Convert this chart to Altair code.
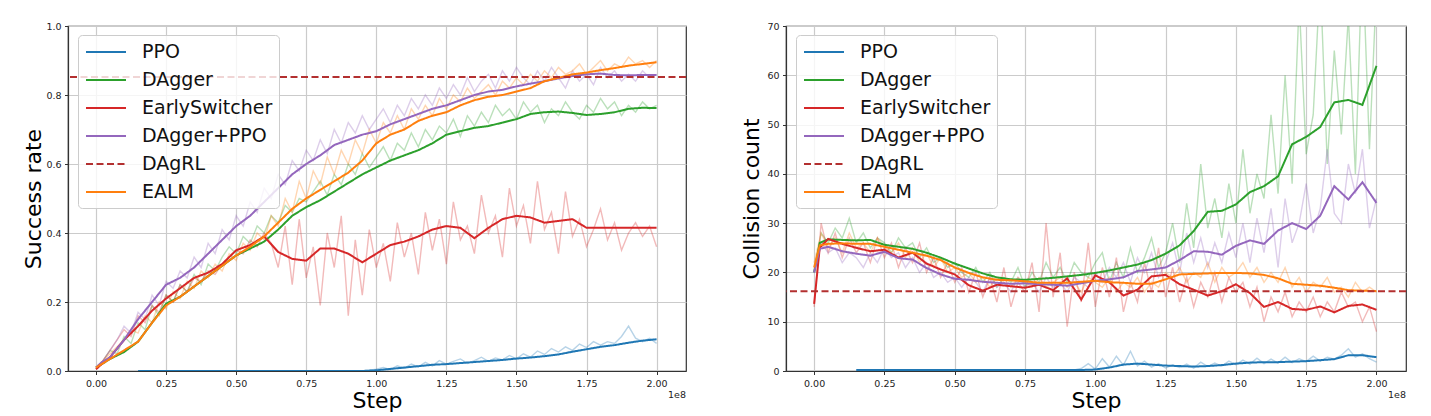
import altair as alt
import pandas as pd

# ---------------- data ----------------
METHODS = ["PPO", "DAgger", "EarlySwitcher", "DAgger+PPO", "DAgRL", "EALM"]
COLORS = ["#1f77b4", "#2ca02c", "#d62728", "#9467bd", "#b33030", "#ff7f0e"]
DASHES = [[1, 0], [1, 0], [1, 0], [1, 0], [7, 3.5], [1, 0]]
RAW_METHODS = ["PPO", "DAgger", "EarlySwitcher", "DAgger+PPO", "EALM"]
RAW_COLORS = ["#1f77b4", "#2ca02c", "#d62728", "#9467bd", "#ff7f0e"]

X_TICKS = [0.0, 0.25, 0.5, 0.75, 1.0, 1.25, 1.5, 1.75, 2.0]
SUCCESS_TICKS = [0.0, 0.2, 0.4, 0.6, 0.8, 1.0]
COLLISION_TICKS = [0, 10, 20, 30, 40, 50, 60, 70]

# step (in units of 1e8) for smoothed curves and for raw curves
SMOOTH_STEPS = [0.0, 0.02, 0.05, 0.1, 0.15, 0.2, 0.25, 0.3, 0.35, 0.4, 0.45, 0.5,
                0.55, 0.6, 0.65, 0.7, 0.75, 0.8, 0.85, 0.9, 0.95, 1.0, 1.05, 1.1,
                1.15, 1.2, 1.25, 1.3, 1.35, 1.4, 1.45, 1.5, 1.55, 1.6, 1.65, 1.7,
                1.75, 1.8, 1.85, 1.9, 1.95, 2.0]
RAW_STEPS = [round(0.025 * k, 3) for k in range(81)]

# ---- Success rate: smoothed ----
S_PPO = [None, None, None, None] + [0.0] * 17 + [
    0.002, 0.006, 0.01, 0.014, 0.018, 0.02, 0.023, 0.026, 0.029, 0.032, 0.036,
    0.039, 0.043, 0.048, 0.056, 0.063, 0.07, 0.075, 0.082, 0.088, 0.092]
S_DAGGER = [0.01, 0.02, 0.035, 0.055, 0.085, 0.14, 0.195, 0.215, 0.245, 0.275, 0.305,
            0.335, 0.355, 0.375, 0.41, 0.45, 0.475, 0.495, 0.52, 0.545, 0.57, 0.59,
            0.61, 0.625, 0.64, 0.66, 0.685, 0.695, 0.705, 0.71, 0.72, 0.73, 0.745,
            0.75, 0.752, 0.748, 0.742, 0.745, 0.75, 0.76, 0.763, 0.762]
S_EARLY = [0.005, 0.02, 0.04, 0.09, 0.13, 0.175, 0.21, 0.24, 0.27, 0.285, 0.31, 0.35,
           0.365, 0.39, 0.345, 0.325, 0.32, 0.355, 0.355, 0.34, 0.315, 0.34, 0.365,
           0.375, 0.39, 0.41, 0.42, 0.415, 0.385, 0.415, 0.44, 0.45, 0.445, 0.43,
           0.435, 0.44, 0.415, 0.415, 0.415, 0.415, 0.415, 0.415]
S_DPPO = [0.01, 0.025, 0.04, 0.09, 0.15, 0.20, 0.25, 0.27, 0.30, 0.34, 0.38, 0.42,
          0.45, 0.49, 0.53, 0.57, 0.60, 0.625, 0.655, 0.67, 0.685, 0.695, 0.715, 0.73,
          0.745, 0.76, 0.77, 0.785, 0.80, 0.81, 0.815, 0.825, 0.833, 0.84, 0.848,
          0.855, 0.86, 0.862, 0.858, 0.857, 0.858, 0.858]
S_EALM = [0.01, 0.02, 0.035, 0.06, 0.085, 0.14, 0.19, 0.215, 0.245, 0.275, 0.305,
          0.335, 0.36, 0.39, 0.43, 0.47, 0.50, 0.525, 0.55, 0.575, 0.61, 0.66, 0.685,
          0.70, 0.725, 0.74, 0.75, 0.77, 0.785, 0.795, 0.80, 0.81, 0.82, 0.84, 0.85,
          0.86, 0.865, 0.872, 0.878, 0.885, 0.89, 0.895]
S_DAGRL = 0.852

# ---- Success rate: raw ----
SR_PPO = [None] * 6 + [0.0] * 33 + [0.002, 0.005,
    0.01, 0.004, 0.015, 0.008, 0.02, 0.012, 0.025, 0.015, 0.03, 0.02,
    0.028, 0.035, 0.022, 0.03, 0.04, 0.028, 0.038, 0.032, 0.045, 0.035,
    0.05, 0.04, 0.058, 0.048, 0.065, 0.055, 0.07, 0.06, 0.078, 0.068,
    0.085, 0.075, 0.085, 0.08, 0.10, 0.13, 0.095, 0.085, 0.095, 0.08]
SR_DAGGER = [0.01, 0.03, 0.06, 0.05, 0.10, 0.08, 0.14, 0.12, 0.19, 0.16,
             0.22, 0.20, 0.25, 0.23, 0.28, 0.25, 0.31, 0.29, 0.33, 0.36,
             0.34, 0.39, 0.37, 0.42, 0.40, 0.45, 0.43, 0.48, 0.46, 0.50,
             0.49, 0.52, 0.55, 0.51, 0.57, 0.54, 0.60, 0.57, 0.63, 0.59,
             0.62,
             0.65, 0.61, 0.66, 0.64, 0.69, 0.65, 0.70, 0.67, 0.71, 0.69,
             0.73, 0.68, 0.74, 0.71, 0.75, 0.72, 0.77, 0.74, 0.76, 0.73,
             0.78, 0.75, 0.77, 0.72, 0.76, 0.74, 0.78, 0.75, 0.73, 0.77,
             0.75, 0.79, 0.76, 0.78, 0.74, 0.77, 0.75, 0.78, 0.76, 0.77]
SR_EARLY = [0.005, 0.03, 0.06, 0.09, 0.12, 0.10, 0.16, 0.14, 0.19, 0.17,
            0.22, 0.20, 0.25, 0.23, 0.27, 0.26, 0.29, 0.28, 0.31, 0.33,
            0.35, 0.34, 0.38, 0.36, 0.40, 0.37, 0.30, 0.42, 0.25, 0.44,
            0.27, 0.36, 0.19, 0.40, 0.30, 0.45, 0.16, 0.38, 0.22, 0.41,
            0.30,
            0.37, 0.26, 0.43, 0.33, 0.40, 0.28, 0.46, 0.35, 0.44, 0.31,
            0.49, 0.38, 0.42, 0.34, 0.51, 0.40, 0.45, 0.33, 0.53, 0.42,
            0.48, 0.37, 0.55, 0.41, 0.46, 0.34, 0.52, 0.39, 0.44, 0.36,
            0.41, 0.47, 0.38, 0.43, 0.35, 0.40, 0.43, 0.39, 0.42, 0.36]
SR_DPPO = [0.01, 0.03, 0.06, 0.09, 0.13, 0.11, 0.17, 0.15, 0.22, 0.19,
           0.26, 0.24, 0.29, 0.27, 0.33, 0.30, 0.37, 0.34, 0.41, 0.38,
           0.45, 0.42, 0.49, 0.46, 0.53, 0.50, 0.57, 0.54, 0.61, 0.58,
           0.64, 0.61, 0.67, 0.63, 0.70, 0.66, 0.72, 0.69, 0.74, 0.70,
           0.73,
           0.76, 0.72, 0.77, 0.74, 0.79, 0.76, 0.80, 0.77, 0.82, 0.79,
           0.83, 0.80, 0.85, 0.81, 0.84, 0.86, 0.82, 0.87, 0.84, 0.88,
           0.85, 0.83, 0.87, 0.84, 0.88, 0.85, 0.82, 0.87, 0.84, 0.86,
           0.83, 0.88, 0.85, 0.87, 0.84, 0.86, 0.84, 0.87, 0.85, 0.86]
SR_EALM = [0.01, 0.03, 0.05, 0.07, 0.09, 0.12, 0.11, 0.16, 0.14, 0.20,
           0.18, 0.23, 0.21, 0.26, 0.24, 0.29, 0.27, 0.31, 0.29, 0.34,
           0.32, 0.37, 0.35, 0.40, 0.38, 0.45, 0.42, 0.50, 0.46, 0.55,
           0.50, 0.58, 0.54, 0.62, 0.57, 0.64, 0.60, 0.67, 0.63, 0.70,
           0.66,
           0.72, 0.69, 0.74, 0.70, 0.76, 0.73, 0.77, 0.74, 0.79, 0.76,
           0.80, 0.78, 0.82, 0.79, 0.81, 0.83, 0.80, 0.84, 0.82, 0.85,
           0.83, 0.86, 0.84, 0.87, 0.85, 0.88, 0.86, 0.87, 0.89, 0.86,
           0.88, 0.90, 0.87, 0.89, 0.88, 0.91, 0.89, 0.90, 0.88, 0.90]

# ---- Collision count: smoothed ----
C_PPO = [None, None, None, None] + [0.2] * 17 + [
    0.3, 0.7, 1.3, 1.5, 1.3, 1.1, 1.0, 0.9, 1.0, 1.2, 1.5,
    1.7, 1.8, 1.8, 1.9, 2.0, 2.2, 2.4, 3.2, 3.2, 2.8]
C_DAGGER = [20, 26, 26.7, 26.6, 26.5, 26.6, 25.6, 25.2, 24.8, 24.0, 23.0, 21.8,
            20.8, 19.8, 19.0, 18.6, 18.5, 18.7, 18.9, 19.2, 19.5, 19.9, 20.4, 21.0,
            21.6, 22.5, 23.8, 25.5, 28.4, 32.3, 32.5, 33.8, 36.3, 37.5, 39.5, 46.0,
            47.5, 49.5, 54.5, 55.0, 54.0, 61.9]
C_EARLY = [13.6, 25.0, 26.8, 25.8, 25.0, 24.3, 24.6, 23.0, 24.0, 21.8, 20.6, 19.6,
           17.4, 16.3, 17.5, 17.2, 16.9, 17.5, 16.4, 18.8, 14.5, 19.4, 18.0, 15.3,
           16.5, 19.2, 19.5, 17.6, 16.5, 15.3, 16.2, 17.6, 15.8, 13.0, 14.0, 12.6,
           12.4, 13.1, 11.9, 13.2, 13.5, 12.4]
C_DPPO = [20, 24.8, 25.2, 24.3, 23.8, 23.4, 24.2, 22.9, 22.6, 20.9, 19.6, 18.7,
          18.5, 18.1, 17.9, 17.7, 17.8, 17.6, 17.5, 17.3, 17.8, 18.3, 18.6, 19.0,
          20.3, 20.6, 21.0, 22.5, 24.3, 24.2, 23.6, 25.4, 26.5, 25.8, 28.5, 30.0,
          28.8, 31.5, 37.5, 34.8, 38.3, 34.1]
C_EALM = [21, 25.5, 25.8, 25.9, 25.8, 25.8, 25.2, 24.6, 24.0, 23.4, 22.5, 21.0,
          19.9, 19.0, 18.5, 18.4, 18.2, 17.9, 17.9, 17.9, 18.1, 18.3, 18.0, 17.9,
          17.7, 17.7, 18.6, 19.6, 19.7, 19.8, 19.9, 19.9, 19.8, 19.5, 18.8, 17.7,
          17.5, 17.3, 16.9, 16.4, 16.3, 16.2]
C_DAGRL = 16.2

# ---- Collision count: raw ----
CR_PPO = [None] * 6 + [0.2] * 32 + [0.5, 1.5, 0.4,
    2.5, 0.8, 3.0, 1.2, 4.0, 1.0, 2.0, 0.8, 1.5, 0.6,
    1.2, 0.7, 1.4, 0.6, 1.8, 0.9, 1.6, 1.0, 2.0, 1.3,
    2.2, 1.4, 2.6, 1.5, 2.4, 1.6, 2.8, 1.7, 2.5, 1.9,
    3.0, 2.0, 2.8, 2.4, 3.2, 4.5, 2.8, 3.5, 2.5, 1.8]
CR_DAGGER = [20, 28, 26, 29, 27, 31, 26, 28, 25, 27,
             26, 24, 27, 25, 26, 23, 25, 22, 23, 21,
             22, 20, 19, 21, 18, 20, 17, 19, 18, 21,
             17, 20, 18, 22, 19, 21, 18, 22, 20, 19,
             22,
             24, 18, 22, 19, 25, 20, 23, 27, 21, 24,
             30, 22, 34, 25, 42, 29, 35, 27, 38, 30,
             45, 32, 40, 35, 52, 36, 60, 38, 75, 44,
             52, 80, 42, 65, 48, 72, 40, 85, 45, 78]
CR_EARLY = [13, 30, 24, 28, 23, 27, 24, 26, 22, 27,
            23, 26, 21, 25, 22, 26, 20, 23, 19, 22,
            18, 21, 16, 20, 15, 19, 14, 21, 13, 18,
            16, 22, 12, 30, 15, 24, 9, 20, 14, 26,
            13,
            21, 15, 23, 12, 18, 14, 22, 16, 25, 15,
            21, 14, 19, 13, 18, 15, 20, 14, 19, 16,
            18, 13, 17, 10, 15, 12, 16, 11, 14, 12,
            15, 11, 14, 12, 16, 13, 14, 10, 13, 8]
CR_DPPO = [20, 26, 24, 25, 22, 24, 23, 21, 24, 22,
           25, 23, 24, 21, 23, 20, 22, 19, 20, 18,
           19, 17, 19, 18, 16, 19, 17, 18, 16, 19,
           17, 18, 16, 19, 17, 18, 16, 19, 18, 17,
           20,
           18, 21, 19, 22, 18, 23, 20, 24, 19, 22,
           26, 20, 28, 22, 27, 21, 26, 22, 28, 23,
           30, 22, 31, 24, 33, 21, 35, 26, 30, 38,
           28, 33, 45, 32, 30, 42, 36, 45, 29, 35]
CR_EALM = [22, 28, 25, 27, 24, 28, 25, 26, 24, 27,
           25, 24, 26, 23, 25, 22, 24, 21, 23, 20,
           21, 19, 20, 18, 19, 17, 19, 18, 17, 19,
           18, 17, 19, 17, 18, 19, 17, 18, 16, 19,
           18,
           17, 19, 16, 18, 17, 19, 16, 18, 17, 20,
           19, 21, 18, 20, 19, 22, 18, 21, 19, 20,
           22, 19, 21, 18, 20, 18, 21, 17, 19, 16,
           18, 17, 19, 16, 17, 15, 18, 16, 17, 16]


def to_long(steps, series):
    rows = []
    for name, vals in series:
        if len(vals) != len(steps):
            raise ValueError(f"{name}: {len(vals)} values vs {len(steps)} steps")
        for s, v in zip(steps, vals):
            if v is not None:
                rows.append({"step": s, "value": v, "method": name})
    return pd.DataFrame(rows)


W_L, W_R, H = 618, 620, 345

color_scale = alt.Scale(domain=METHODS, range=COLORS)
dash_scale = alt.Scale(domain=METHODS, range=DASHES)
raw_scale = alt.Scale(domain=RAW_METHODS, range=RAW_COLORS)

legend = alt.Legend(title=None, orient="none", legendX=10, legendY=9,
                    direction="vertical")


def panel(raw_series, smooth_series, dagrl, ytitle, ydomain, yticks, yfmt, width):
    raw_df = to_long(RAW_STEPS, raw_series)
    smooth_df = to_long(SMOOTH_STEPS, smooth_series)
    rule_df = pd.DataFrame({"method": ["DAgRL"], "value": [dagrl]})

    x = alt.X("step:Q",
              scale=alt.Scale(domain=[-0.1, 2.105], nice=False, zero=False),
              axis=alt.Axis(values=X_TICKS, format=".2f", title="Step",
                            titleY=36, titleBaseline="alphabetic",
                            labelFlush=False))
    y = alt.Y("value:Q",
              scale=alt.Scale(domain=ydomain, nice=False, zero=False),
              axis=alt.Axis(values=yticks, format=yfmt, title=ytitle,
                            titleX=-28, titleY=H / 2, titleBaseline="alphabetic",
                            labelFlush=False))

    # faint raw curves: separate "stroke" scale (different domain) with no legend
    raw = alt.Chart(raw_df).mark_line(strokeWidth=1.4, opacity=0.32, clip=True).encode(
        x=x, y=y,
        stroke=alt.Stroke("method:N", scale=raw_scale, legend=None),
    )
    smooth = alt.Chart(smooth_df).mark_line(strokeWidth=2, clip=True).encode(
        x=x, y=y,
        color=alt.Color("method:N", scale=color_scale, legend=legend),
        strokeDash=alt.StrokeDash("method:N", scale=dash_scale, legend=legend),
    )
    rule = alt.Chart(rule_df).mark_rule(strokeWidth=2).encode(
        y=y,
        color=alt.Color("method:N", scale=color_scale, legend=legend),
        strokeDash=alt.StrokeDash("method:N", scale=dash_scale, legend=legend),
    )
    offset = alt.Chart(pd.DataFrame({"t": ["1e8"]})).mark_text(
        align="right", baseline="alphabetic", fontSize=9.5, font="DejaVu Sans",
        color="#222").encode(x=alt.value(width), y=alt.value(H + 27), text="t:N")
    return alt.layer(raw, smooth, rule, offset).properties(width=width, height=H)


left = panel(
    [("PPO", SR_PPO), ("DAgger", SR_DAGGER), ("EarlySwitcher", SR_EARLY),
     ("DAgger+PPO", SR_DPPO), ("EALM", SR_EALM)],
    [("PPO", S_PPO), ("DAgger", S_DAGGER), ("EarlySwitcher", S_EARLY),
     ("DAgger+PPO", S_DPPO), ("EALM", S_EALM)],
    S_DAGRL, "Success rate", [0, 1.0], SUCCESS_TICKS, ".1f", W_L)

right = panel(
    [("PPO", CR_PPO), ("DAgger", CR_DAGGER), ("EarlySwitcher", CR_EARLY),
     ("DAgger+PPO", CR_DPPO), ("EALM", CR_EALM)],
    [("PPO", C_PPO), ("DAgger", C_DAGGER), ("EarlySwitcher", C_EARLY),
     ("DAgger+PPO", C_DPPO), ("EALM", C_EALM)],
    C_DAGRL, "Collision count", [0, 70], COLLISION_TICKS, "d", W_R)

chart = alt.hconcat(left, right, spacing=100, bounds="flush").resolve_scale(
    color="independent", strokeDash="independent", stroke="independent",
    x="independent", y="independent"
).resolve_legend(color="independent", strokeDash="independent").configure_view(
    stroke="#333", strokeWidth=1.2
).configure_axis(
    gridColor="#cbcbcb", gridWidth=1.2, domainColor="#333", domainWidth=1.2,
    tickColor="#333", tickSize=3.5, tickWidth=1, labelFont="DejaVu Sans",
    labelFontSize=9.5, labelColor="#222", labelPadding=3.5,
    titleFont="DejaVu Sans", titleFontSize=22, titleFontWeight="normal",
    titleColor="#000",
).configure_legend(
    labelFont="DejaVu Sans", labelFontSize=19, labelColor="#111",
    symbolType="M-0.9,0L3.1,0", symbolSize=400, symbolStrokeWidth=2,
    labelOffset=36, padding=6, rowPadding=7,
    fillColor="rgba(255,255,255,0.8)", strokeColor="#cccccc", cornerRadius=4,
    symbolOpacity=1,
).properties(
    padding={"left": 21, "top": 20, "right": 5, "bottom": 5},
    background="white",
)

chart.save("out.html", embed_options={"renderer": "svg", "actions": False})
